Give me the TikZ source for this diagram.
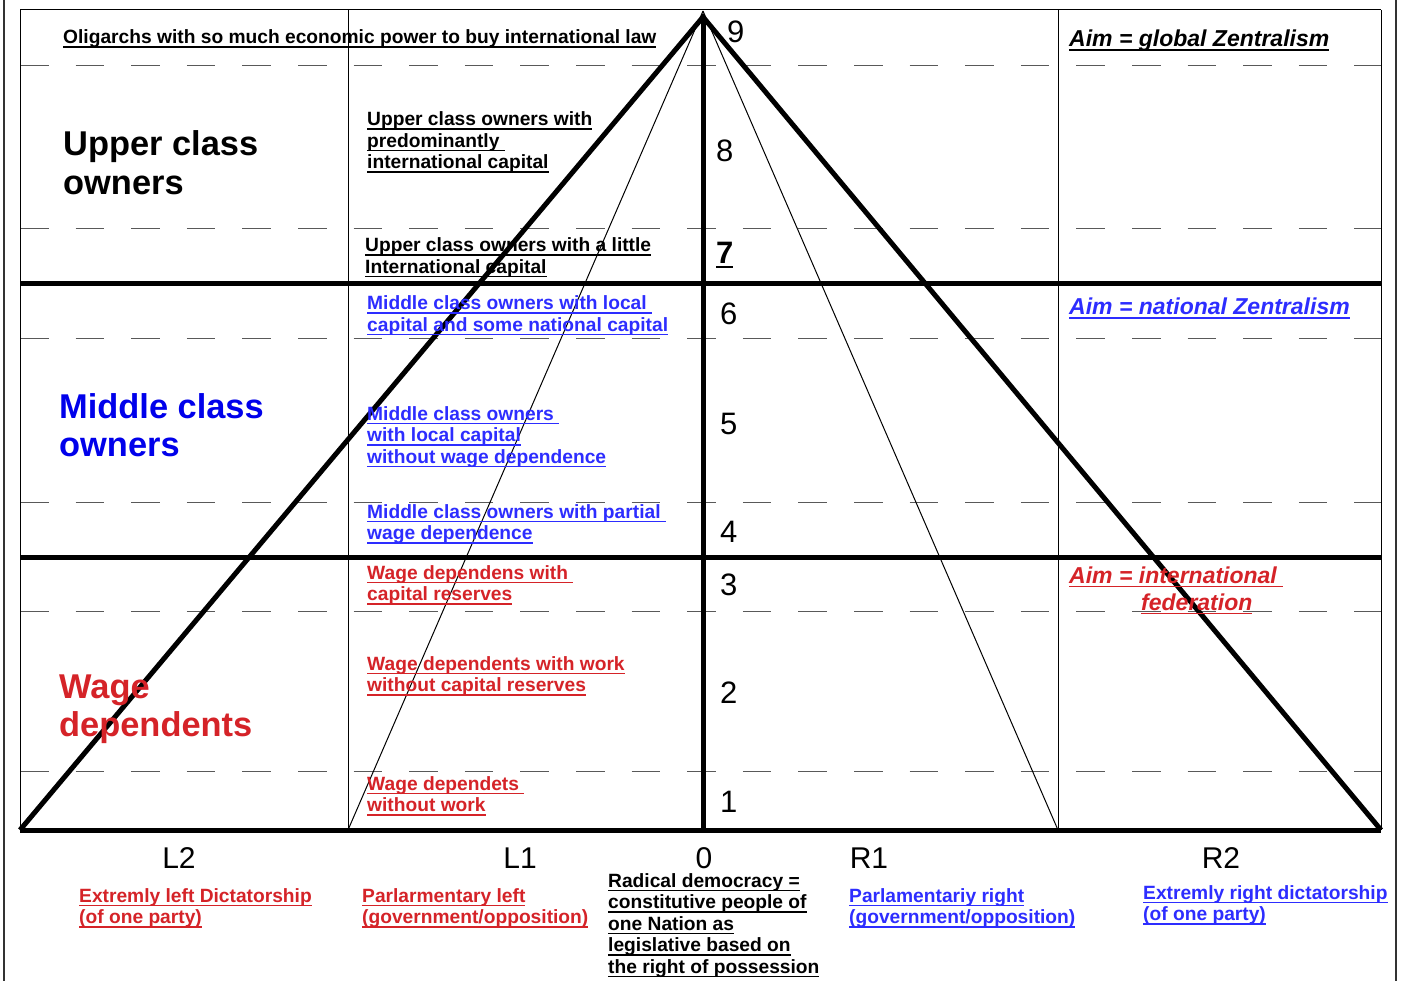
\documentclass[tikz,border=0pt]{standalone}
\usepackage{fontspec}
\setmainfont{Liberation Sans}
\newlength\ulw
\newcommand\ul[1]{\settowidth\ulw{#1}\rlap{\rule[-4pt]{\ulw}{1.5pt}}#1}
\definecolor{tred}{RGB}{213,35,40}
\definecolor{tblue}{RGB}{45,45,255}
\definecolor{bigblue}{RGB}{0,0,235}
\begin{document}
\begin{tikzpicture}[x=1pt,y=-1pt,
  thickline/.style={line width=5pt, line join=miter},
  thinline/.style={line width=1pt},
  dashline/.style={line width=1pt, draw=black!65, dash pattern=on 28.6pt off 27pt},
  frameline/.style={line width=2pt, draw=black!80},
  small/.style={font=\fontsize{19.2}{21.5}\selectfont\bfseries, anchor=base west, inner sep=0pt, align=left},
  big/.style={font=\fontsize{34.4}{38.5}\selectfont\bfseries, anchor=base west, inner sep=0pt, align=left},
  num/.style={font=\fontsize{31}{31}\selectfont, anchor=base west, inner sep=0pt},
  axis/.style={font=\fontsize{30}{30}\selectfont, anchor=base, inner sep=0pt},
  aim/.style={font=\fontsize{23}{27}\selectfont\bfseries\itshape, anchor=base west, inner sep=0pt, align=left},
]
\useasboundingbox (0,0) rectangle (1403,981);
\fill[white] (0,0) rectangle (1403,981);
% frame
\draw[frameline] (4,0) -- (4,981);
\draw[frameline] (1396,0) -- (1396,981);
% key points
\coordinate (apex) at (703,17);
\coordinate (tip) at (703,11);
\coordinate (bl) at (20,830);
\coordinate (br) at (1381,830);
\coordinate (b1) at (348,830);
\coordinate (b2) at (1058,830);
\coordinate (b0) at (703,830);
\coordinate (tl) at (20,10);
\coordinate (tr) at (1381,10);
% dashed rows
\foreach \yy in {66,229,339,502,611,771}
  \draw[dashline] (20,\yy) -- (1381,\yy);
% thin table lines
\draw[thinline] (tl) -- (tr);
\draw[thinline] (tl) -- (bl);
\draw[thinline] (tr) -- (br);
\draw[thinline] (348,10) -- (b1);
\draw[thinline] (1058,10) -- (b2);
\draw[thinline] (tip) -- (b1);
\draw[thinline] (tip) -- (b2);
% thick lines
\draw[thickline] (20,284) -- (1381,284);
\draw[thickline] (20,557) -- (1381,557);
\draw[thickline] (bl) -- (br);
\draw[thickline] (apex) -- (b0);
\draw[thickline] (bl) -- (apex) -- (br);
% left labels (multi-line nodes: base = last line)
\node[small] (olig) at (63,44) {\ul{Oligarchs with so much economic power to buy international law}};
\node[big] (upper) at (63,194.5) {Upper class\\owners};
\node[big, text=bigblue] (middle) at (59,456.5) {Middle class\\owners};
\node[big, text=tred] (wage) at (59,736.5) {Wage\\dependents};
% second column
\node[small] (c8) at (367,169) {\ul{Upper class owners with}\\\ul{predominantly\ }\\\ul{international capital}};
\node[small] (c7) at (365,273.5) {\ul{Upper class owners with a little}\\\ul{International capital}};
\node[small, text=tblue] (c6) at (367,331.5) {\ul{Middle class owners with local\ }\\\ul{capital and some national capital}};
\node[small, text=tblue] (c5) at (367,463) {\ul{Middle class owners\ }\\\ul{with local capital}\\\ul{without wage dependence}};
\node[small, text=tblue] (c4) at (367,539.5) {\ul{Middle class owners with partial\ }\\\ul{wage dependence}};
\node[small, text=tred] (c3) at (367,600.5) {\ul{Wage dependens with\ }\\\ul{capital reserves}};
\node[small, text=tred] (c2) at (367,691.5) {\ul{Wage dependents with work}\\\ul{without capital reserves}};
\node[small, text=tred] (c1) at (367,811.5) {\ul{Wage dependets\ }\\\ul{without work}};
% numbers
\node[num] (n9) at (727,43) {9};
\node[num] (n8) at (716,162) {8};
\node[num, font=\fontsize{31}{31}\selectfont\bfseries] (n7) at (716,264) {\ul{7}};
\node[num] (n6) at (720,325) {6};
\node[num] (n5) at (720,435) {5};
\node[num] (n4) at (720,542) {4};
\node[num] (n3) at (720,595) {3};
\node[num] (n2) at (720,703) {2};
\node[num] (n1) at (720,812) {1};
% aims
\node[aim] (aim1) at (1069,47) {\ul{Aim = global Zentralism}};
\node[aim, text=tblue] (aim2) at (1069,315) {\ul{Aim = national Zentralism}};
\node[aim, text=tred] (aim3) at (1069,610) {\ul{Aim = international\ }\\\hspace*{72pt}\ul{federation}};
% axis
\node[axis] (L2) at (179,868) {L2};
\node[axis] (L1) at (520,868) {L1};
\node[axis] (Z0) at (704,868) {0};
\node[axis] (R1) at (869,868) {R1};
\node[axis] (R2) at (1221,868) {R2};
% axis descriptions
\node[small, text=tred] (dL2) at (79,923.5) {\ul{Extremly left Dictatorship}\\\ul{(of one party)}};
\node[small, text=tred] (dL1) at (362,923.5) {\ul{Parlarmentary left}\\\ul{(government/opposition)}};
\node[small] (d0) at (608,973) {\ul{Radical democracy =}\\\ul{constitutive people of}\\\ul{one Nation as}\\\ul{legislative based on}\\\ul{the right of possession}};
\node[small, text=tblue] (dR1) at (849,923.5) {\ul{Parlamentariy right}\\\ul{(government/opposition)}};
\node[small, text=tblue] (dR2) at (1143,920.5) {\ul{Extremly right dictatorship}\\\ul{(of one party)}};
\end{tikzpicture}
\end{document}
